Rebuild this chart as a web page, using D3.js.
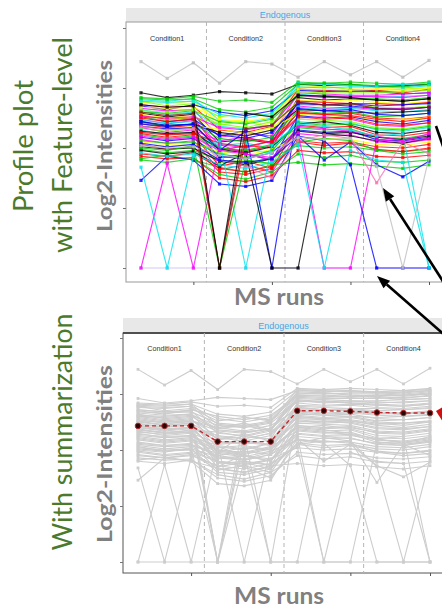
<!DOCTYPE html>
<html><head><meta charset="utf-8">
<script src="https://cdn.jsdelivr.net/npm/d3@7/dist/d3.min.js"></script>
<style>body{margin:0;background:#fff}</style>
</head><body><svg id="c" width="442" height="609"></svg>
<script>
// ---------------- DATA ----------------
const runs = [1,2,3,4,5,6,7,8,9,10,11,12];
const conditions = ["Condition1","Condition2","Condition3","Condition4"];
const conditionCenterRun = [2,5,8,11];
const conditionBoundaries = [3.5,6.5,9.5];
const yTickValues = [10,15,20,25,30];
const xTickRuns = [3,6,9,12];
const stripLabel = "Endogenous";

// summarized protein-level profile (red dashed line)
const summaryValues = [22.15,22.15,22.15,20.75,20.75,20.75,23.5,23.5,23.45,23.35,23.3,23.3];

// feature-level log2 intensities (10 = censored / missing, drawn at the floor)
const featureValues = [
 [10,10,10,10,10,10,10,10,10,10,10,10],
 [27.2,25.8,27.1,25.4,27.2,27.0,25.9,27.2,26.1,27.2,25.9,27.3],
 [24.6,24.2,24.4,24.7,24.6,24.5,25.3,25.2,25.3,25.1,25.2,25.3],
 [24.2,24.1,24.3,23.9,24.0,23.8,25.5,25.4,25.5,25.4,25.3,25.5],
 [24.0,23.9,24.1,22.3,22.1,22.5,25.4,25.3,25.2,25.2,25.3,25.4],
 [23.8,23.7,23.9,22.0,22.4,21.8,25.2,25.1,25.0,25.0,24.9,25.1],
 [23.9,23.5,23.7,22.6,22.9,22.7,25.0,25.1,24.9,24.8,24.9,25.0],
 [23.6,23.4,23.5,21.5,21.3,21.8,24.9,24.8,24.7,24.8,24.6,24.9],
 [23.5,23.2,23.6,23.0,22.7,23.1,24.8,24.7,24.8,24.7,24.5,24.6],
 [23.3,23.1,23.2,20.9,21.2,21.0,24.6,24.5,24.4,24.4,24.5,24.6],
 [23.2,22.8,23.0,21.8,21.6,21.9,24.5,24.3,24.4,24.2,24.3,24.4],
 [23.0,22.9,23.1,22.2,22.0,22.4,24.3,24.4,24.2,24.1,24.0,24.2],
 [22.9,22.6,22.8,20.5,20.7,20.4,24.2,24.0,24.1,24.0,23.9,24.1],
 [22.8,22.5,22.7,21.2,21.0,21.5,24.0,23.9,24.0,23.8,23.7,23.9],
 [22.7,22.4,22.5,19.8,20.2,20.0,23.9,23.8,23.7,23.7,23.6,23.8],
 [22.6,22.2,22.4,21.0,21.4,20.8,23.8,23.6,23.7,23.5,23.6,23.7],
 [22.5,22.3,22.6,22.0,21.7,22.2,23.6,23.5,23.6,23.4,23.3,23.5],
 [22.4,22.0,22.3,20.3,20.0,20.6,23.5,23.3,23.4,23.2,23.3,23.4],
 [22.3,22.1,22.2,19.5,19.9,19.6,23.4,23.2,23.3,23.1,23.0,23.2],
 [22.2,21.8,22.0,21.3,21.0,21.5,23.2,23.1,23.0,22.9,23.0,23.1],
 [22.1,21.9,22.0,20.8,20.5,20.9,23.1,22.9,23.0,22.6,22.7,22.9],
 [22.0,21.7,21.9,20.0,19.7,20.2,23.0,22.8,22.9,22.5,22.4,22.6],
 [21.9,21.5,21.8,21.6,21.2,21.7,22.8,22.7,22.6,22.3,22.4,22.5],
 [21.8,21.6,21.7,19.2,19.5,19.0,22.7,22.5,22.6,22.2,22.0,22.3],
 [21.7,21.3,21.5,20.6,20.9,20.4,22.5,22.6,22.4,21.9,21.8,22.1],
 [21.6,21.4,21.6,18.8,19.0,18.6,22.4,22.3,22.2,21.7,21.6,21.9],
 [21.5,21.1,21.3,20.2,20.4,20.0,22.2,22.0,22.1,21.5,21.4,21.7],
 [21.4,21.2,21.3,19.9,19.6,20.1,22.0,22.2,21.9,21.3,21.2,21.5],
 [21.2,20.9,21.1,18.5,18.9,18.3,21.9,21.7,21.8,21.1,21.0,21.3],
 [21.1,20.8,21.0,20.0,19.8,20.3,21.7,21.5,21.6,20.9,20.8,21.1],
 [20.9,20.6,20.8,19.3,19.1,19.6,21.5,21.3,21.4,20.7,20.6,20.9],
 [20.7,20.4,20.6,18.2,18.6,18.0,21.2,21.0,21.1,20.5,20.4,20.7],
 [20.5,20.3,20.4,19.7,19.4,19.9,20.9,20.8,20.7,20.3,20.2,20.5],
 [20.3,19.9,20.1,18.0,17.8,18.3,20.6,20.4,20.5,20.1,20.0,20.3],
 [19.9,19.6,19.8,19.0,18.7,19.2,20.2,20.0,20.1,19.8,19.7,19.9],
 [19.3,19.1,19.2,17.5,17.2,17.7,19.8,19.6,19.7,19.3,19.2,19.4],
 [19.1,19.4,19.0,18.4,18.0,18.6,18.8,18.6,18.7,18.5,18.3,18.6],
 [17.3,19.3,19.0,17.0,16.8,17.3,21.0,19.0,20.5,18.6,17.6,18.9],
 [24.1,24.0,24.1,23.2,23.0,23.4,25.3,25.4,25.3,25.2,25.1,25.3],
 [23.9,23.8,23.9,22.8,22.5,22.9,25.1,25.0,25.1,25.1,25.0,25.2],
 [23.4,23.3,23.4,22.4,22.2,22.6,24.9,24.9,24.8,24.9,24.8,25.0],
 [23.1,23.0,23.2,21.9,22.2,21.7,24.7,24.6,24.6,24.6,24.7,24.8],
 [22.6,22.5,22.6,21.7,21.5,21.9,24.4,24.2,24.3,24.3,24.2,24.4],
 [22.0,21.8,22.0,21.1,20.8,21.3,23.7,23.6,23.5,23.3,23.2,23.4],
 [21.3,21.1,21.2,20.4,20.1,20.6,22.9,22.8,22.7,22.4,22.2,22.5],
 [20.6,20.4,20.5,19.5,19.2,19.8,22.1,21.9,22.0,21.6,21.5,21.8],
 [20.1,19.9,20.0,18.9,18.6,19.1,21.4,21.2,21.3,20.9,20.7,21.0],
 [19.5,19.3,19.6,18.3,18.0,18.5,20.5,20.2,20.4,19.9,19.7,20.0],
 [19.0,18.8,19.1,17.8,17.4,18.0,19.5,19.2,19.4,18.9,18.8,19.0],
 [10,18.7,10,20.3,19.5,19.0,21.8,21.6,21.4,21.0,20.6,21.2],
 [18.4,10,19.3,20.6,10,20.2,22.0,21.8,21.5,21.0,21.2,10],
 [22.5,22.2,22.4,10,20.8,20.5,22.6,22.4,22.5,22.0,21.9,22.1],
 [22.2,21.9,22.0,19.8,21.4,10,23.3,23.1,23.2,22.8,22.7,22.9],
 [19.8,19.5,19.7,18.5,19.6,10,10,21.2,21.0,20.6,20.4,20.8],
 [20.0,19.8,20.2,10,19.0,18.7,20.5,20.8,20.6,19.8,19.5,19.7],
 [21.8,21.5,21.6,19.0,18.5,17.5,20.6,21.1,20.8,17.1,20.5,19.5],
 [21.0,20.7,20.9,19.8,19.5,19.2,21.3,10,10,20.7,20.5,20.8],
 [20.4,20.1,20.3,19.0,18.8,19.1,21.0,20.6,18.6,10,10,10],
 [19.6,19.3,19.5,18.6,18.3,18.8,20.3,10,19.8,19.0,18.8,10],
 [23.0,22.7,22.9,10,21.6,21.9,23.8,23.6,23.7,23.3,23.2,23.4],
 [20.2,20.0,20.1,19.4,19.1,19.6,20.9,20.7,20.8,18.5,10,19.2],
 [23.6,23.4,23.5,10,22.9,22.6,24.4,24.3,24.2,24.0,23.9,24.1]
];
// peptide group of each feature (decides its colour in the top plot)
const featureGroup = [
 13,7,0,2,4,6,9,1,3,5,4,2,0,6,1,3,9,5,4,0,2,1,6,3,5,9,4,0,1,2,3,5,6,1,2,1,2,3,
 2,4,6,9,5,3,1,2,0,1,2,
 5,4,1,3,0,2,8,5,3,4,10,7,0
];
const palette = ["#000000","#FF0000","#00CD00","#0000FF","#00E5EE","#FF00FF","#FFFF00","#BEBEBE","#FF6EB4","#7FFF00","#8B1A1A","#1E90FF","#9370DB","#C8B8F0"];

// ---------------- DRAWING ----------------
const svg = d3.select("#c");
const panels = [
  {mode:"feature", x0:126, x1:444, y0:22, y1:282, s0:8, run0:141, run1:429, yb:268, yt:28, condY:41},
  {mode:"summary", x0:123, x1:444, y0:333, y1:573, s0:318, run0:138, run1:430, yb:562, yt:338, condY:351}
];

panels.forEach(p => {
  const g = svg.append("g");
  const x = d3.scaleLinear().domain([runs[0], runs[runs.length-1]]).range([p.run0, p.run1]);
  const y = d3.scaleLinear().domain([yTickValues[0], yTickValues[yTickValues.length-1]]).range([p.yb, p.yt]);

  // strip
  g.append("rect").attr("x", p.x0).attr("y", p.s0).attr("width", p.x1-p.x0).attr("height", p.y0-p.s0)
    .attr("fill", "#e8e8e8");
  g.append("text").attr("x", (p.x0+p.x1)/2).attr("y", (p.s0+p.y0)/2+3.2).attr("text-anchor","middle")
    .attr("font-family","Liberation Sans, Arial, sans-serif").attr("font-size", 9).attr("fill","#46a7e6")
    .text(stripLabel);

  // panel
  g.append("rect").attr("x", p.x0).attr("y", p.y0).attr("width", p.x1-p.x0).attr("height", p.y1-p.y0)
    .attr("fill","#fff").attr("stroke", p.mode==="summary" ? "#555" : "#999").attr("stroke-width", 1);
  if (p.mode==="summary") {
    g.append("line").attr("x1",p.x0).attr("x2",p.x1).attr("y1",p.y0).attr("y2",p.y0).attr("stroke","#333").attr("stroke-width",1.5);
  }

  // axes (ticks only)
  const ya = d3.axisLeft(y).tickValues(yTickValues).tickSize(3).tickFormat("");
  const ga = g.append("g").attr("transform", `translate(${p.x0},0)`).call(ya);
  ga.select(".domain").remove();
  ga.selectAll("line").attr("stroke","#777");
  const xa = d3.axisBottom(x).tickValues(xTickRuns).tickSize(3).tickFormat("");
  const gx = g.append("g").attr("transform", `translate(0,${p.y1})`).call(xa);
  gx.select(".domain").remove();
  gx.selectAll("line").attr("stroke","#555");

  // condition separators
  g.selectAll(".sep").data(conditionBoundaries).join("line")
    .attr("x1", d => x(d)).attr("x2", d => x(d)).attr("y1", p.y0).attr("y2", p.y1)
    .attr("stroke","#b4b4b4").attr("stroke-width",1).attr("stroke-dasharray","4,3");

  // condition labels
  g.selectAll(".cond").data(conditions).join("text")
    .attr("x", (d,i) => x(conditionCenterRun[i])).attr("y", p.condY).attr("text-anchor","middle")
    .attr("font-family","Liberation Sans, Arial, sans-serif").attr("font-size", 7.2).attr("fill","#333")
    .text(d => d);

  const line = d3.line().x((d,i) => x(runs[i])).y(d => y(d));
  const fg = g.append("g");
  featureValues.forEach((vals, fi) => {
    const col = p.mode==="feature" ? palette[featureGroup[fi]] : "#cdcdcd";
    const op = p.mode==="feature" ? 0.8 : 1;
    const lw = p.mode==="feature" ? 1.15 : 1.1;
    const ps = p.mode==="feature" ? 3.2 : 2.8;
    fg.append("path").attr("d", line(vals)).attr("fill","none").attr("stroke", col)
      .attr("stroke-width", lw).attr("stroke-opacity", op);
    fg.selectAll(null).data(vals).join("rect")
      .attr("x", (d,i) => x(runs[i]) - ps/2)
      .attr("y", d => y(d) - ps/2)
      .attr("width", ps).attr("height", ps)
      .attr("fill", col).attr("fill-opacity", op);
  });

  if (p.mode==="summary") {
    g.append("path").attr("d", line(summaryValues)).attr("fill","none")
      .attr("stroke","#c0282d").attr("stroke-width",1.4).attr("stroke-dasharray","4,3");
    g.selectAll(".sum").data(summaryValues).join("circle")
      .attr("cx", (d,i) => x(runs[i])).attr("cy", d => y(d)).attr("r", 2.8)
      .attr("fill","#2a0707").attr("stroke","#c0282d").attr("stroke-width",0.9);
  }
});

// ---------------- TEXT LABELS ----------------
function vtext(txt, bx, cy, size, len, color, weight) {
  svg.append("text").attr("transform", `translate(${bx},${cy}) rotate(-90)`)
    .attr("text-anchor","middle").attr("font-family","Lato, 'Open Sans', sans-serif")
    .attr("font-size", size).attr("font-weight", weight).attr("fill", color)
    .attr("textLength", len).attr("lengthAdjust","spacingAndGlyphs").text(txt);
}
const green = "#4b7a2c";
vtext("Profile plot", 33, 146, 27, 132, green, 400);
vtext("with Feature-level", 72, 145, 27, 216, green, 400);
vtext("With summarization", 72, 432, 27, 237, green, 400);
vtext("Log2-Intensities", 112, 146, 21, 172, "#808080", 700);
vtext("Log2-Intensities", 112, 454, 21, 178, "#808080", 700);
["MS runs"].forEach(t => {
  [305, 604].forEach(by => {
    svg.append("text").attr("x", 279).attr("y", by).attr("text-anchor","middle")
      .attr("font-family","Lato, 'Open Sans', sans-serif").attr("font-size", 23).attr("font-weight",700)
      .attr("fill","#808080").attr("textLength", 90).attr("lengthAdjust","spacingAndGlyphs").text(t);
  });
});

// ---------------- ANNOTATION ARROWS ----------------
function arrow(tx, ty, fx, fy, color, w) {
  const ang = Math.atan2(fy-ty, fx-tx);
  const L = 13, W = 5;
  const bx = tx + Math.cos(ang)*L, by = ty + Math.sin(ang)*L;
  svg.append("line").attr("x1", fx).attr("y1", fy).attr("x2", bx).attr("y2", by)
    .attr("stroke", color).attr("stroke-width", w);
  const px = -Math.sin(ang)*W, py = Math.cos(ang)*W;
  svg.append("polygon").attr("points", `${tx},${ty} ${bx+px},${by+py} ${bx-px},${by-py}`).attr("fill", color);
}
arrow(383, 188, 446, 286, "#000", 2.6);
arrow(377, 276, 448, 338, "#000", 2.6);
svg.append("line").attr("x1",436).attr("y1",126).attr("x2",445).attr("y2",152).attr("stroke","#000").attr("stroke-width",2.6);
svg.append("polygon").attr("points","436,411 443,407 443,422").attr("fill","#d01010");
</script>
</body></html>
